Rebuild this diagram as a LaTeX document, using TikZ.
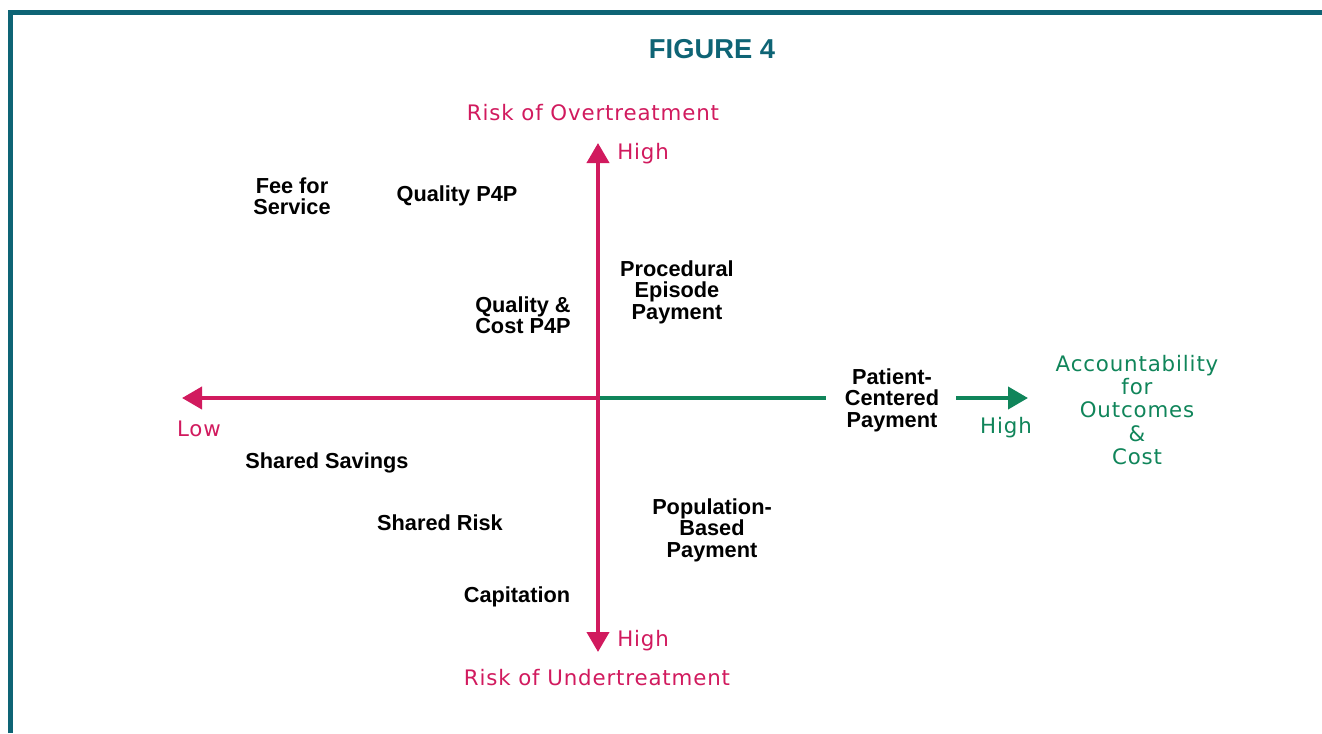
\documentclass[tikz,border=0pt]{standalone}
\usepackage{fontspec}
\setmainfont{Liberation Sans}
\newfontfamily\colfont[LetterSpace=4]{DejaVu Sans}
\usetikzlibrary{arrows.meta}
\definecolor{teal4}{HTML}{0E6475}
\definecolor{mag}{HTML}{D11A5E}
\definecolor{grn}{HTML}{10855A}
\tikzset{
  lbl/.style={font=\bfseries\fontsize{16.3}{16.1}\selectfont, align=center, inner sep=0pt, text=black},
  clbl/.style={font=\colfont\fontsize{16}{17.6}\selectfont, align=center, inner sep=0pt},
  axis/.style={line width=3pt, -{Triangle[length=15pt,width=16.5pt]}},
}
\begin{document}
\begin{tikzpicture}[x=0.75pt,y=-0.75pt]
\useasboundingbox (0,0) rectangle (1322,733);
% border
\draw[teal4, line width=3.75pt] (10.5,733) -- (10.5,12.5) -- (1322,12.5);
% title
\node[font=\bfseries\fontsize{20.5}{20.5}\selectfont, text=teal4, inner sep=0pt] (title) at (712,49) {FIGURE 4};
% axis coordinates
\coordinate (o) at (598,398);
\coordinate (vt) at (598,143);
\coordinate (vb) at (598,652);
\coordinate (hl) at (182,398);
\coordinate (gtip) at (1028,398);
% labels
\node[lbl] (fee) at (292,196) {Fee for\\Service};
\node[lbl] (qp4p) at (457,196) {Quality P4P};
\node[lbl] (proc) at (677,292) {Procedural\\Episode\\Payment};
\node[lbl] (qc) at (523,315) {Quality \&\\Cost P4P};
\node[lbl] (pcp) at (892,400) {Patient-\\Centered\\Payment};
\node[lbl] (ss) at (327,463) {Shared Savings};
\node[lbl] (sr) at (440,523) {Shared Risk};
\node[lbl] (pbp) at (712,530) {Population-\\Based\\Payment};
\node[lbl] (cap) at (517,597) {Capitation};
% colored labels
\node[clbl, text=mag] (rot) at (593,113) {Risk of Overtreatment};
\node[clbl, text=mag] (rut) at (597,678) {Risk of Undertreatment};
\node[clbl, text=mag, anchor=west] (hight) at (617,154) {High};
\node[clbl, text=mag, anchor=west] (highb) at (617,641) {High};
\node[clbl, text=mag] (low) at (199,429) {Low};
\node[clbl, text=grn] (highg) at (1006,428) {High};
\node[clbl, text=grn] (acc) at (1137,410) {Accountability\\for\\Outcomes\\\&\\Cost};
% axes
\draw[grn, line width=3pt] (o) -- ([xshift=-14pt]o -| pcp.west);
\draw[grn, axis] ([xshift=12.5pt]o -| pcp.east) -- (gtip);
\draw[mag, axis] (o) -- (hl);
\draw[mag, axis] (o) -- (vt);
\draw[mag, axis] (o) -- (vb);
\end{tikzpicture}
\end{document}
